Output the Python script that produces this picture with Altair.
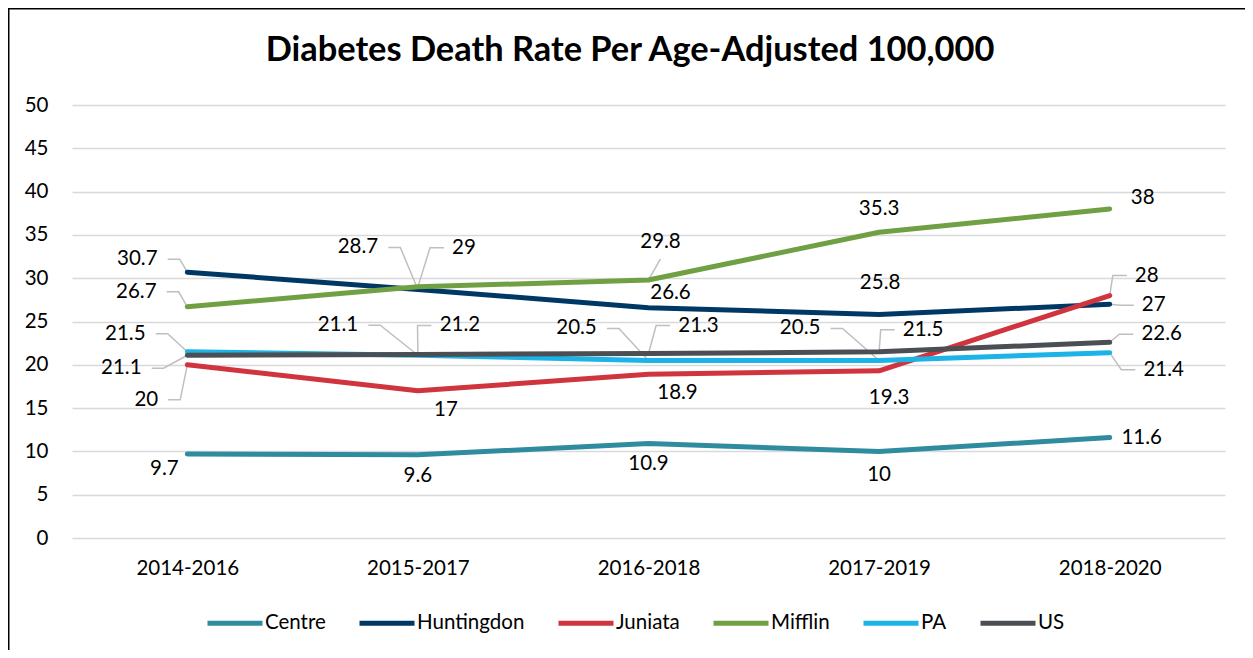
import altair as alt
import pandas as pd

# ---------------- data ----------------
title_text = "Diabetes Death Rate Per Age-Adjusted 100,000"
periods = ["2014-2016", "2015-2017", "2016-2018", "2017-2019", "2018-2020"]
series_names = ["Centre", "Huntingdon", "Juniata", "Mifflin", "PA", "US"]
centre = [9.7, 9.6, 10.9, 10, 11.6]
huntingdon = [30.7, 28.7, 26.6, 25.8, 27]
juniata = [20, 17, 18.9, 19.3, 28]
mifflin = [26.7, 29, 29.8, 35.3, 38]
pa = [21.5, 21.1, 20.5, 20.5, 21.4]
us = [21.1, 21.2, 21.3, 21.5, 22.6]
colors = ["#2F8C9F", "#003865", "#D0343F", "#70A044", "#1CB3E6", "#4B4F54"]

values = {"Centre": centre, "Huntingdon": huntingdon, "Juniata": juniata,
          "Mifflin": mifflin, "PA": pa, "US": us}

# ---------------- layout ----------------
W, H = 1153, 433
PX_X = W / len(periods)      # pixels per category step
PX_Y = H / 50.0              # pixels per unit value
FONT = "Lato"
LABEL_SIZE = 20.5

# label offsets (pixels from the point) and whether a leader line is drawn
label_offsets = {
    "Centre":     [(-23, 15), (0, 21), (0, 20), (0, 24), (32, 0)],
    "Huntingdon": [(-50, -13), (-60, -42), (22, -15), (1, -32), (44, 1)],
    "Juniata":    [(-41, 35), (28, 19), (29, 19), (10, 27), (37, -20)],
    "Mifflin":    [(-51, -15), (46, -39), (12, -38), (0, -23), (33, -11)],
    "PA":         [(-62, -18), (-80, -30), (-72, -32), (-79, -32), (54, 17)],
    "US":         [(-66, 13), (42, -29), (50, -28), (44, -22), (52, -8)],
}
leaders = {
    "Centre":     [0, 0, 0, 0, 0],
    "Huntingdon": [1, 1, 0, 0, 1],
    "Juniata":    [1, 0, 0, 0, 1],
    "Mifflin":    [1, 1, 1, 0, 0],
    "PA":         [1, 1, 1, 1, 1],
    "US":         [1, 1, 1, 1, 1],
}


def fmt(v):
    return f"{v:g}"


def half_width(txt):
    n_dig = sum(c.isdigit() for c in txt)
    return (n_dig * 0.58 * LABEL_SIZE + (0.25 * LABEL_SIZE if "." in txt else 0)) / 2


rows, lab_rows, lead_rows = [], [], []
for s in series_names:
    for i, v in enumerate(values[s]):
        rows.append({"series": s, "idx": i, "period": periods[i], "value": v})
        dx, dy = label_offsets[s][i]
        txt = fmt(v)
        lab_rows.append({"series": s, "text": txt,
                         "lx": i + dx / PX_X, "ly": v - dy / PX_Y})
        if leaders[s][i]:
            hw = half_width(txt)
            if dx < -hw:
                pts = [(0, 0), (dx + hw + 22, dy), (dx + hw + 10, dy)]
            elif dx > hw:
                pts = [(0, 0), (dx - hw - 22, dy), (dx - hw - 8, dy)]
            else:
                e = dy + (17 if dy < 0 else -17)
                pts = [(0, 0), (dx, e), (dx, e)]
            key = f"{s}-{i}"
            for k, (px, py) in enumerate(pts):
                lead_rows.append({"key": key, "order": k,
                                  "x": i + px / PX_X, "y": v - py / PX_Y})

df = pd.DataFrame(rows)
df_lab = pd.DataFrame(lab_rows)
df_lead = pd.DataFrame(lead_rows)

label_expr = "[" + ",".join(f"'{p}'" for p in periods) + "][datum.value]"

x_scale = alt.Scale(domain=[-0.5, len(periods) - 0.5], nice=False, zero=False)
y_scale = alt.Scale(domain=[0, 50], nice=False)

x_enc = alt.X("idx:Q", scale=x_scale,
              axis=alt.Axis(values=list(range(len(periods))), labelExpr=label_expr,
                            grid=False, ticks=False, domain=False, title=None,
                            labelFont=FONT, labelFontSize=20.5, labelColor="#000000",
                            labelPadding=20))
y_enc = alt.Y("value:Q", scale=y_scale,
              axis=alt.Axis(values=list(range(0, 51, 5)), grid=True, gridColor="#D9D9D9",
                            gridWidth=1.5, ticks=False, domain=False, title=None,
                            labelFont=FONT, labelFontSize=20.5, labelColor="#000000",
                            labelPadding=24))

lines = alt.Chart(df).mark_line(strokeWidth=5, strokeCap="round", strokeJoin="round").encode(
    x=x_enc,
    y=y_enc,
    color=alt.Color("series:N",
                    scale=alt.Scale(domain=series_names, range=colors),
                    legend=alt.Legend(title=None, orient="none", direction="horizontal",
                                      legendX=133, legendY=488, columns=6,
                                      symbolType="stroke", symbolSize=3025,
                                      symbolStrokeWidth=5, labelFont=FONT,
                                      labelFontSize=20.5, labelColor="#000000",
                                      labelOffset=0, columnPadding=23)),
    order="idx:Q",
)

lead = alt.Chart(df_lead).mark_line(stroke="#BFBFBF", strokeWidth=1.5).encode(
    x=alt.X("x:Q", scale=x_scale),
    y=alt.Y("y:Q", scale=y_scale),
    detail="key:N",
    order="order:Q",
)

labels = alt.Chart(df_lab).mark_text(font=FONT, fontSize=LABEL_SIZE, color="#000000",
                                     align="center", baseline="middle").encode(
    x=alt.X("lx:Q", scale=x_scale),
    y=alt.Y("ly:Q", scale=y_scale),
    text="text:N",
)

title = alt.Chart(pd.DataFrame({"t": [title_text]})).mark_text(
    font=FONT, fontSize=34.4, fontWeight="bold", color="#000000",
    align="center", baseline="alphabetic").encode(
    x=alt.value(558), y=alt.value(-44), text="t:N")

border = alt.Chart(pd.DataFrame({"a": [0]})).mark_rect(
    fillOpacity=0, stroke="#000000", strokeWidth=3).encode(
    x=alt.value(-64), y=alt.value(-97), x2=alt.value(W + 200), y2=alt.value(H + 300))

chart = alt.layer(border, lead, lines, labels, title).properties(
    width=W, height=H,
    autosize=alt.AutoSizeParams(type="none"),
    padding={"left": 64, "top": 97, "right": 20, "bottom": 112},
).configure_view(stroke=None)

chart.save("out.html", embed_options={"renderer": "svg", "actions": False})
